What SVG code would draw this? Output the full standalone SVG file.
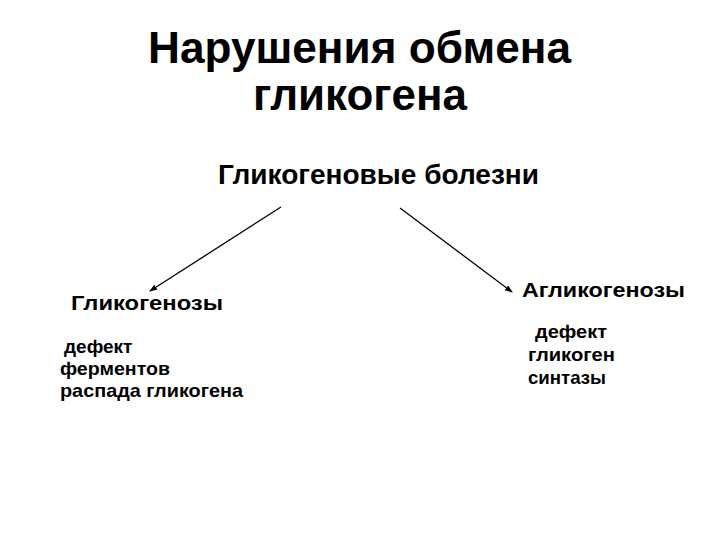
<svg xmlns="http://www.w3.org/2000/svg" width="720" height="540" viewBox="0 0 720 540">
<style>
text{font-family:"Liberation Sans",Arial,sans-serif;fill:#000}
.t{font-size:45px;font-weight:bold}
.h{font-size:28px;font-weight:bold}
.nb{font-size:21px;font-weight:bold}
.s{font-size:19px;font-weight:bold}
.c{stroke:#000;stroke-width:1.3;fill:none;marker-end:url(#ah)}
</style>
<defs>
<marker id="ah" markerWidth="8" markerHeight="6" refX="7" refY="3" orient="auto" markerUnits="userSpaceOnUse">
<path d="M0,0 L8,3 L0,6 Z" fill="#000"/>
</marker>
</defs>
<rect width="720" height="540" fill="#fff"/>
<g id="title">
<text class="t" x="148" y="63" textLength="423" lengthAdjust="spacingAndGlyphs">Нарушения обмена</text>
<text class="t" x="253" y="110" textLength="214" lengthAdjust="spacingAndGlyphs">гликогена</text>
</g>
<g id="root">
<text class="h" x="218" y="184" textLength="321" lengthAdjust="spacingAndGlyphs">Гликогеновые болезни</text>
</g>
<g id="connectors">
<line class="c" x1="281" y1="207" x2="150" y2="291"/>
<line class="c" x1="400" y1="208" x2="512" y2="292"/>
</g>
<g id="left">
<text class="nb" x="71" y="310" textLength="152" lengthAdjust="spacingAndGlyphs">Гликогенозы</text>
<text class="s" x="64" y="353">дефект</text>
<text class="s" x="60" y="375" textLength="110" lengthAdjust="spacingAndGlyphs">ферментов</text>
<text class="s" x="60" y="397" textLength="183" lengthAdjust="spacingAndGlyphs">распада гликогена</text>
</g>
<g id="right">
<text class="nb" x="522" y="297" textLength="163" lengthAdjust="spacingAndGlyphs">Агликогенозы</text>
<text class="s" x="535" y="338" textLength="72" lengthAdjust="spacingAndGlyphs">дефект</text>
<text class="s" x="528" y="361" textLength="87" lengthAdjust="spacingAndGlyphs">гликоген</text>
<text class="s" x="528" y="384" textLength="78" lengthAdjust="spacingAndGlyphs">синтазы</text>
</g>
</svg>
